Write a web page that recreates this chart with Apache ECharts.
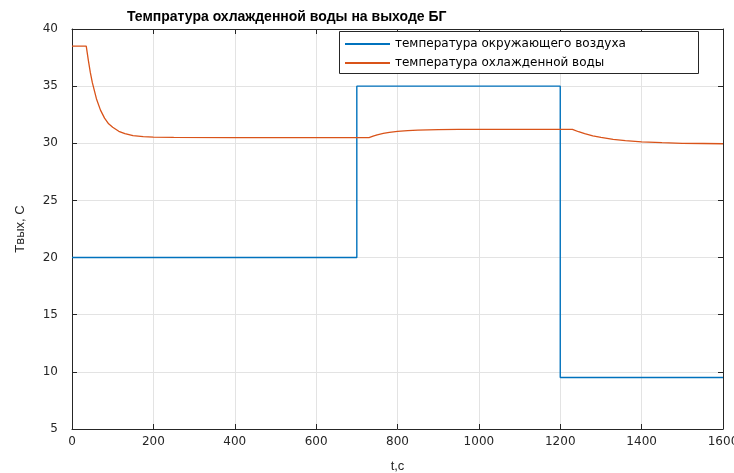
<!DOCTYPE html>
<html>
<head>
<meta charset="utf-8">
<script src="https://cdn.jsdelivr.net/npm/echarts@6/dist/echarts.min.js"></script>
<style>
  html, body { margin: 0; padding: 0; background: #fff; }
  #main { width: 734px; height: 473px; }
</style>
</head>
<body>
<div id="main"></div>
<script>
// -- data --
let seriesNames = ['температура окружающего воздуха', 'температура охлажденной воды'];

// ambient air temperature, step changes
let airT = [0, 700, 700, 1200, 1200, 1600];
let airV = [20, 20, 35, 35, 9.5, 9.5];

// chilled water temperature
let waterT = [0, 35, 40, 45, 50, 60, 70, 80, 90, 100, 115, 130, 150, 175, 200, 250, 400, 600,
  730, 740, 750, 765, 780, 800, 825, 850, 900, 950, 1000, 1100, 1230,
  1245, 1260, 1280, 1300, 1330, 1360, 1400, 1450, 1500, 1550, 1600];
let waterV = [38.5, 38.5, 37.3, 36.2, 35.3, 33.9, 32.9, 32.2, 31.7, 31.4, 31.05, 30.84, 30.67, 30.58, 30.54, 30.51, 30.5, 30.5,
  30.5, 30.63, 30.74, 30.86, 30.96, 31.04, 31.11, 31.15, 31.2, 31.21, 31.22, 31.22, 31.22,
  31.01, 30.84, 30.65, 30.51, 30.34, 30.23, 30.12, 30.05, 30.0, 29.98, 29.96];

let xTicks = {min: 0, max: 1600, step: 200};
let yTicks = {min: 5, max: 40, step: 5};

function pairs(xs, ys) {
  return xs.map(function (x, i) { return [x, ys[i]]; });
}

let axisColor = '#262626';
let gridColor = '#e3e3e3';
let font = '"Liberation Sans", Arial, sans-serif';
let tickFont = '"DejaVu Sans", sans-serif';

function xAxisDef(pos, showLabel) {
  return {
    type: 'value', position: pos,
    min: xTicks.min, max: xTicks.max, interval: xTicks.step,
    name: showLabel ? 't,c' : '',
    nameLocation: 'middle', nameGap: 31,
    nameTextStyle: {color: axisColor, fontSize: 13, fontFamily: font},
    axisLine: {show: true, onZero: false, lineStyle: {color: axisColor, width: 1}},
    axisTick: {show: true, inside: true, length: 5, lineStyle: {color: axisColor}},
    axisLabel: {
      show: showLabel, color: axisColor, fontSize: 12, fontFamily: tickFont, margin: 7,
      formatter: function (v) { return String(v); }
    },
    splitLine: {show: showLabel, lineStyle: {color: gridColor, width: 1}}
  };
}

function yAxisDef(pos, showLabel) {
  return {
    type: 'value', position: pos,
    min: yTicks.min, max: yTicks.max, interval: yTicks.step,
    name: showLabel ? 'Tвых, C' : '',
    nameLocation: 'middle', nameGap: 45,
    nameTextStyle: {color: axisColor, fontSize: 13, fontFamily: font},
    axisLine: {show: true, onZero: false, lineStyle: {color: axisColor, width: 1}},
    axisTick: {show: true, inside: true, length: 5, lineStyle: {color: axisColor}},
    axisLabel: {show: showLabel, color: axisColor, fontSize: 12, fontFamily: tickFont, margin: 14},
    splitLine: {show: showLabel, lineStyle: {color: gridColor, width: 1}}
  };
}

let option = {
  animation: false,
  backgroundColor: '#fff',
  title: {
    text: 'Темпратура охлажденной воды на выходе БГ',
    left: 122, top: 5,
    textStyle: {fontSize: 14, fontWeight: 'bold', color: '#000', fontFamily: font}
  },
  grid: {left: 72, right: 11, top: 29, bottom: 44, outerBoundsMode: 'none'},
  legend: {
    orient: 'vertical',
    left: 345, top: 37, padding: 0,
    itemWidth: 45, itemHeight: 2, itemGap: 5,
    icon: 'rect',
    z: 10,
    textStyle: {fontSize: 12, lineHeight: 14, color: '#000', fontFamily: tickFont},
    data: seriesNames
  },
  graphic: [{
    type: 'rect',
    shape: {x: 339.5, y: 31.5, width: 359, height: 42},
    style: {fill: '#fff', stroke: '#262626', lineWidth: 1},
    z: 3
  }],
  xAxis: [xAxisDef('bottom', true), xAxisDef('top', false)],
  yAxis: [yAxisDef('left', true), yAxisDef('right', false)],
  series: [
    {
      name: seriesNames[0], type: 'line', symbol: 'none',
      xAxisIndex: 0, yAxisIndex: 0,
      lineStyle: {color: '#0072bd', width: 1.4},
      itemStyle: {color: '#0072bd'},
      data: pairs(airT, airV)
    },
    {
      name: seriesNames[1], type: 'line', symbol: 'none',
      xAxisIndex: 0, yAxisIndex: 0,
      lineStyle: {color: '#d95319', width: 1.3},
      itemStyle: {color: '#d95319'},
      data: pairs(waterT, waterV)
    }
  ]
};

let myChart = echarts.init(document.getElementById('main'));
myChart.setOption(option);
</script>
</body>
</html>
